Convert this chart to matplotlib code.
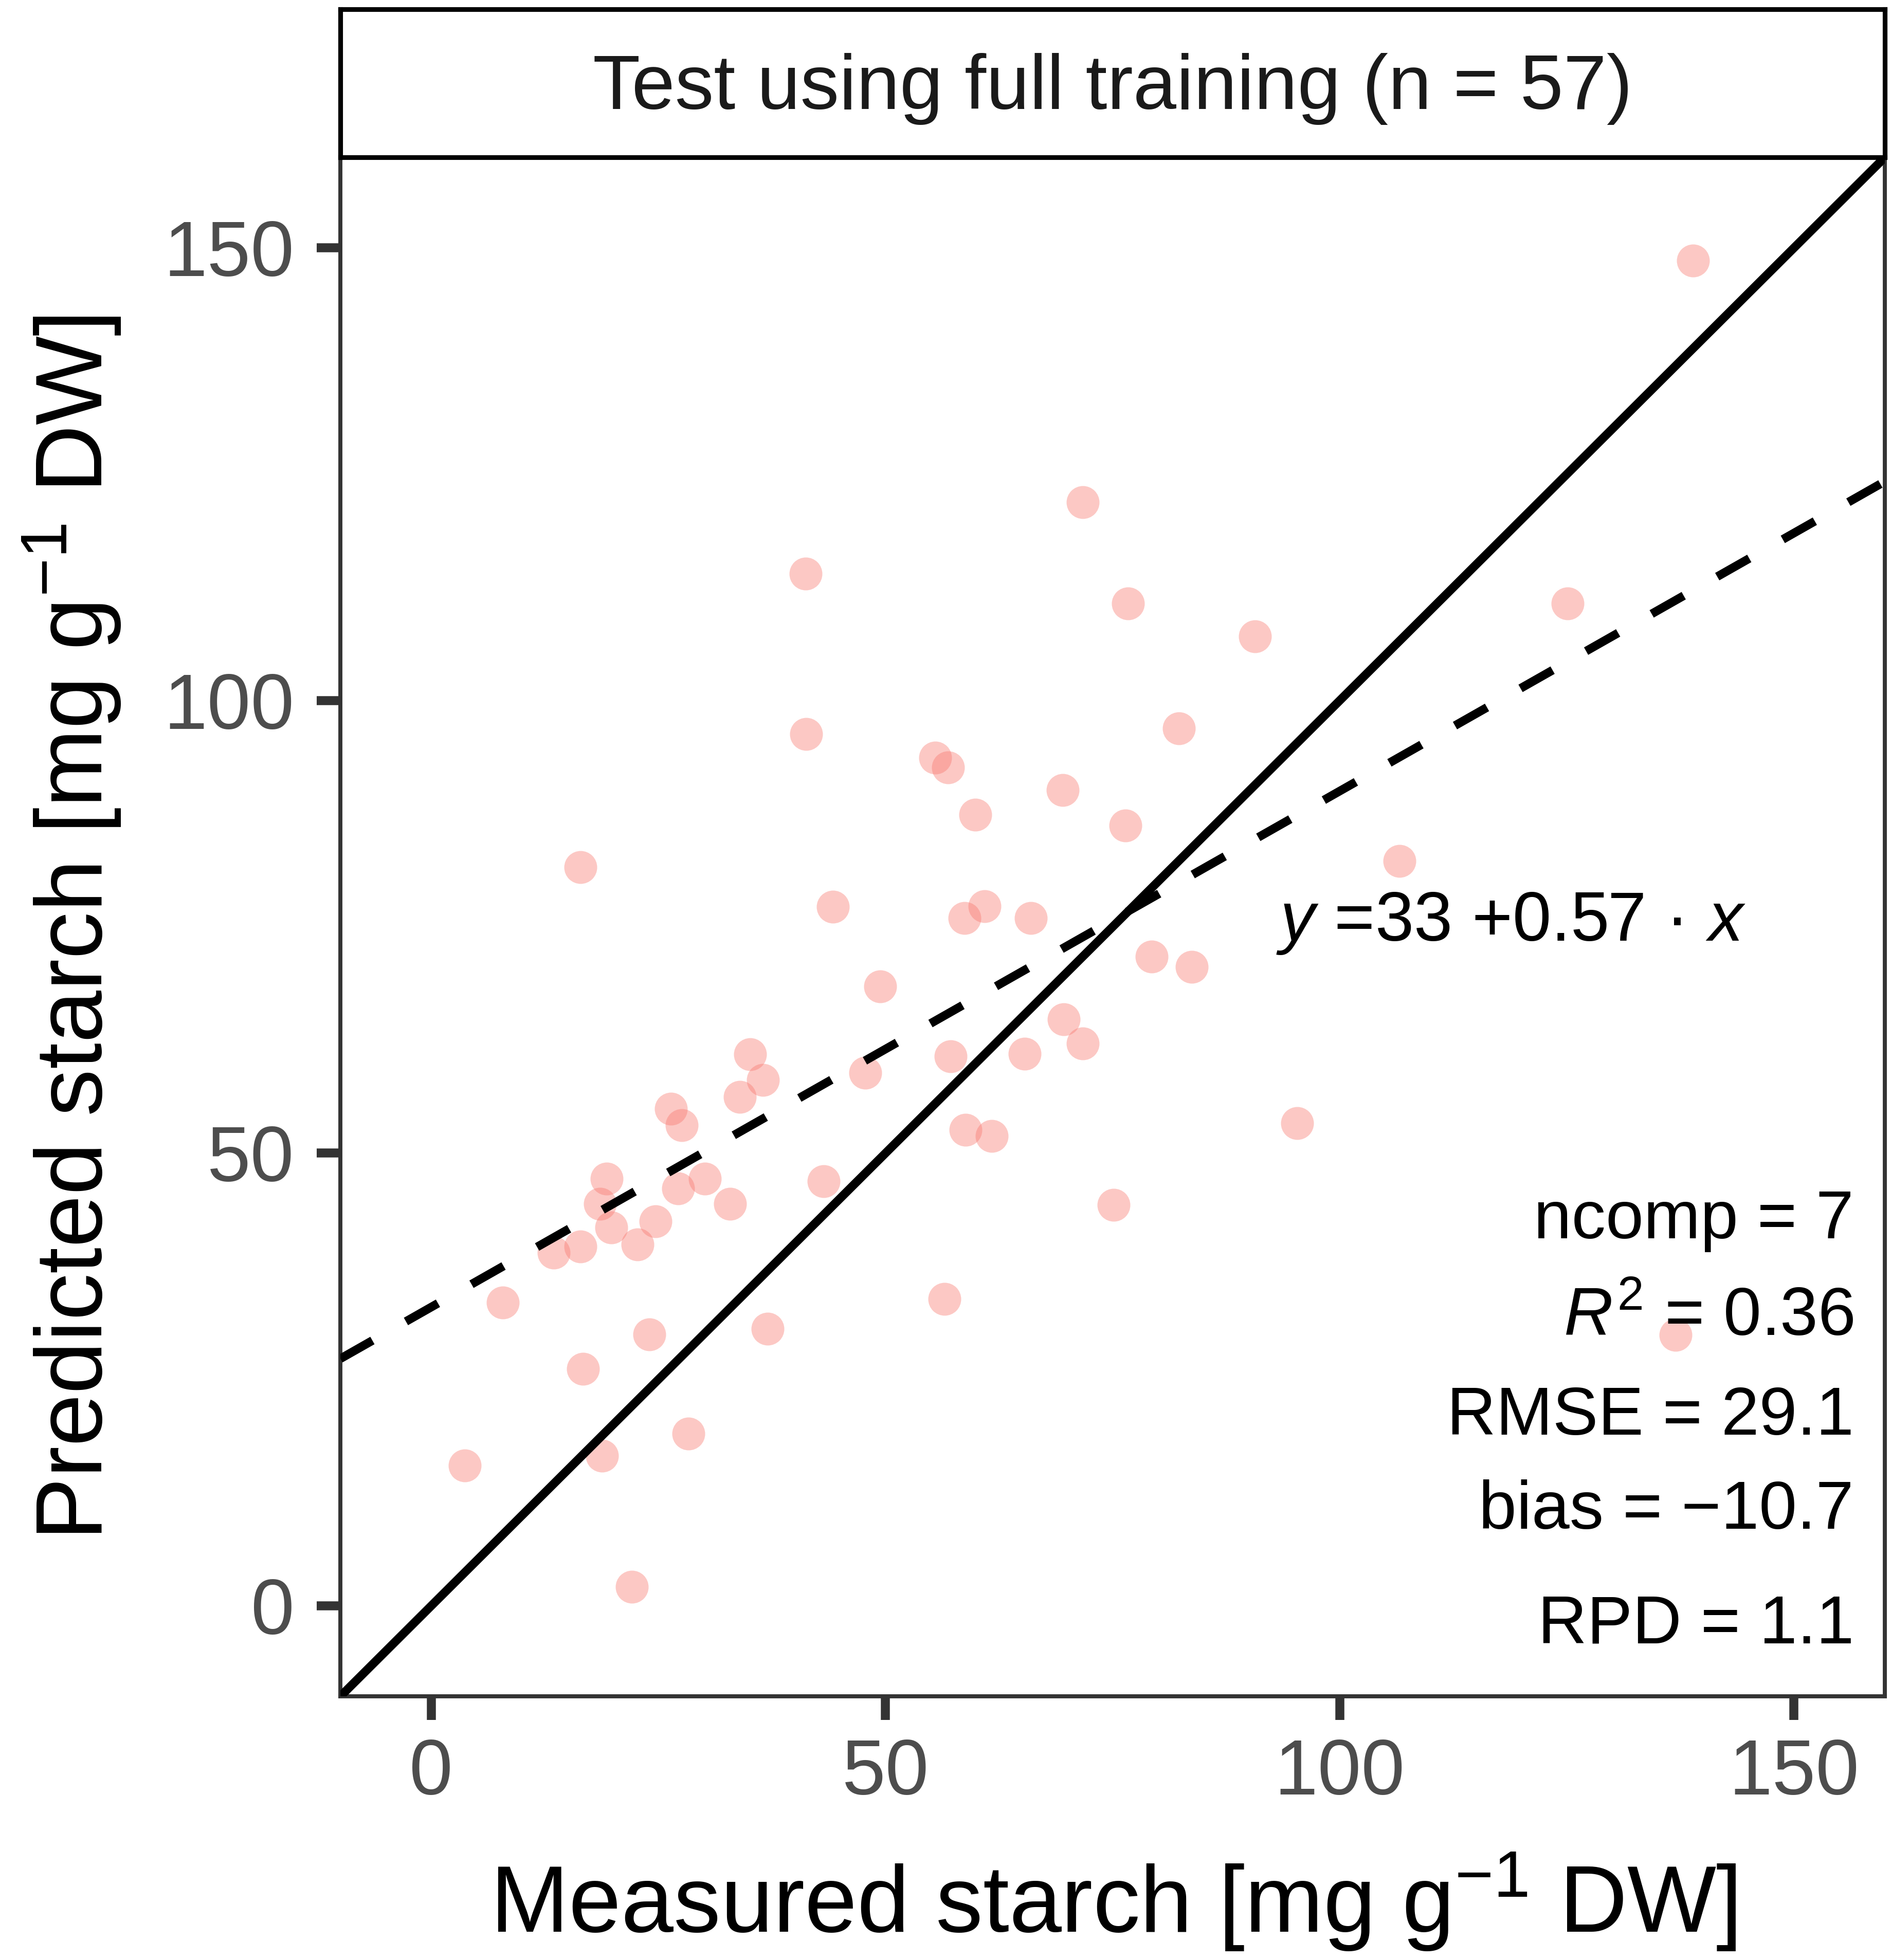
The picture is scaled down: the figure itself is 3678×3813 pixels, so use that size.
import matplotlib
matplotlib.use("Agg")
import matplotlib.pyplot as plt
import numpy as np

plt.rcParams['font.family'] = ['Liberation Sans', 'DejaVu Sans']
plt.rcParams['mathtext.fontset'] = 'custom'
plt.rcParams['mathtext.rm'] = 'Liberation Sans'
plt.rcParams['mathtext.it'] = 'Liberation Sans:italic'

# measured vs predicted starch (mg/g DW)
measured = [138.9, 71.7, 41.2, 76.7, 125.1, 90.7, 41.3, 82.3, 55.5, 56.9,
            69.5, 59.9, 76.4, 16.4, 106.6, 44.2, 60.9, 58.7, 66.0, 79.3,
            83.7, 49.4, 69.6, 71.7, 35.1, 36.5, 47.8, 57.2, 65.3, 34.0,
            26.4, 27.6, 95.3, 58.8, 61.7, 19.3, 30.1, 43.2, 27.2, 18.6,
            32.9, 75.1, 19.8, 24.7, 22.7, 16.4, 13.5, 7.9, 56.5, 37.0,
            24.0, 137.0, 16.7, 28.3, 18.8, 3.7, 22.1]
predicted = [148.6, 121.9, 114.0, 110.7, 110.7, 107.1, 96.3, 96.9, 93.7, 92.6,
             90.1, 87.4, 86.2, 81.6, 82.3, 77.2, 77.3, 76.0, 76.0, 71.7,
             70.6, 68.4, 64.8, 62.1, 60.9, 58.1, 58.9, 60.7, 61.0, 56.2,
             54.9, 53.1, 53.3, 52.6, 51.9, 47.2, 47.2, 46.9, 46.1, 44.4,
             44.4, 44.3, 41.8, 42.5, 39.9, 39.7, 39.0, 33.5, 33.9, 30.6,
             30.0, 29.9, 26.2, 19.0, 16.6, 15.5, 2.1]

intercept = 33
slope = 0.57
stats = ["ncomp = 7", "$R^2$ = 0.36", "RMSE = 29.1", "bias = \u221210.7", "RPD = 1.1"]
stat_y = [40.6, 29.9, 18.9, 8.5, -4.1]
lims = (-10, 160)
ticks = [0, 50, 100, 150]

fig = plt.figure(figsize=(3678 / 300, 3813 / 300), dpi=300)
ax = fig.add_axes([0.180, 0.1345, 0.8167, 0.7852])
strip = fig.add_axes([0.180, 0.9197, 0.8167, 0.0756])

ax.scatter(measured, predicted, s=236, color='#F8766D', alpha=0.4, linewidths=0, zorder=2)

xx = np.array(lims)
ax.plot(xx, xx, color='black', lw=4.0, solid_capstyle='butt', zorder=3)
ax.plot(xx, intercept + slope * xx, color='black', lw=4.0, ls=(0, (4.3, 4.5)),
        dash_capstyle='butt', zorder=3)

ax.set_xlim(lims)
ax.set_ylim(lims)
ax.set_xticks(ticks)
ax.set_yticks(ticks)
ax.tick_params(length=11, width=4.2, color='#333333', labelcolor='#4D4D4D',
               labelsize=36.5)
ax.tick_params(axis='x', pad=8.5)
ax.tick_params(axis='y', pad=10.5)
for sp in ax.spines.values():
    sp.set_linewidth(1.9)
    sp.set_color('#333333')

fig.text(0.5886, 0.01416, "Measured starch [mg g$^{\u22121}$ DW]", fontsize=44,
         ha='center', va='baseline')
fig.text(0.0541, 0.5266, "Predicted starch [mg g$^{\u22121}$ DW]", fontsize=44,
         ha='center', va='baseline', rotation=90, rotation_mode='anchor')

ax.text(93.0, 73.5, "$y$ =33 +0.57 \u00b7 $x$", fontsize=32.5, ha='left', va='baseline', zorder=4)
for s, yy in zip(stats, stat_y):
    ax.text(156.6, yy, s, fontsize=31.8, ha='right', va='baseline', zorder=4)

strip.set_xticks([])
strip.set_yticks([])
for sp in strip.spines.values():
    sp.set_linewidth(2.2)
    sp.set_color('black')
fig.text(0.180 + 0.8167 / 2, 0.9444, "Test using full training (n = 57)", fontsize=36.3,
         ha='center', va='baseline', color='#1A1A1A')

fig.savefig("out.png", dpi=300)
